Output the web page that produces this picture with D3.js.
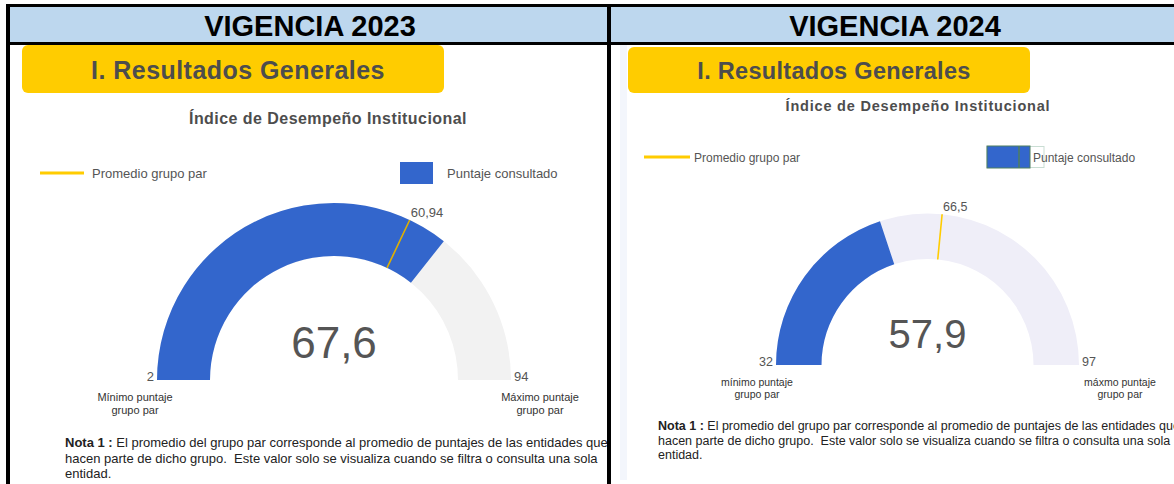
<!DOCTYPE html>
<html>
<head>
<meta charset="utf-8">
<script src="https://cdn.jsdelivr.net/npm/d3@7"></script>
<style>
  body { margin: 0; background: #fff; }
  text { font-family: Arial, "Liberation Sans", sans-serif; white-space: pre; }
</style>
</head>
<body>
<script>
// Datos de los dos tableros
const vigencias = ["VIGENCIA 2023", "VIGENCIA 2024"];
const puntajes = [67.6, 57.9];
const promedios = [60.94, 66.5];
const minimos = [2, 32];
const maximos = [94, 97];
const minimoLabels = [["Mínimo puntaje", "grupo par"], ["mínimo puntaje", "grupo par"]];
const maximoLabels = [["Máximo puntaje", "grupo par"], ["máxmo puntaje", "grupo par"]];
const restoColors = ["#f2f2f2", "#efeef8"];
const notaLines = [
  "El promedio del grupo par corresponde al promedio de puntajes de las entidades que",
  "hacen parte de dicho grupo.  Este valor solo se visualiza cuando se filtra o consulta una sola",
  "entidad."
];

const W = 1174, H = 484;
const blue = "#3366cc", yellow = "#ffcc00", grey = "#555";

// formato con coma decimal
const fmt = d3.formatLocale({decimal: ",", thousands: ".", grouping: [3], currency: ["$", ""]}).format("");

// Layout de cada panel (posiciones en pixeles)
const panels = [
  {x0: 10, x1: 607, hx: 310, box: [22, 45, 422, 48], boxText: [238, 79, 25, 0.45],
   title: [328, 124, 16, 0.45], leg: {ly: 173, lx: [40, 84], tx: 92, bx: 400, bw: 33, tx2: 447, fs: 13},
   g: {cx: 334, cy: 380, r: 177, ir: 124, fs: 44, dy: -22, lfs: 13},
   minL: [135, 401], maxL: [540, 401], descFs: 11, descDy: 13,
   nota: [65, 447, 15.5, 13]},
  {x0: 611, x1: 1174, hx: 895, box: [628, 47, 402, 46], boxText: [834, 79, 23.5, 0.3],
   title: [918, 111, 14.5, 0.8], leg: {ly: 157, lx: [644, 690], tx: 694, bx: 987, bw: 43, tx2: 1033, fs: 12},
   g: {cx: 927.5, cy: 365, r: 151.5, ir: 106, fs: 40, dy: -17, lfs: 12.5},
   minL: [757, 386], maxL: [1120, 386], descFs: 10.5, descDy: 12,
   nota: [658, 430, 14.5, 12.5]}
];

const svg = d3.select("body").append("svg")
  .attr("width", W).attr("height", H);

const defs = svg.append("defs");

// Cabeceras
svg.append("rect").attr("x", 7).attr("y", 6).attr("width", W - 7).attr("height", 37).attr("fill", "#bdd7ee");

panels.forEach((p, i) => {
  defs.append("clipPath").attr("id", "clip" + i)
    .append("rect").attr("x", p.x0).attr("y", 45).attr("width", p.x1 - p.x0).attr("height", H - 45);

  svg.append("text")
    .attr("x", p.hx).attr("y", 36)
    .attr("text-anchor", "middle")
    .attr("font-size", 29).attr("font-weight", "bold")
    .attr("fill", "#000")
    .text(vigencias[i]);

  const g = svg.append("g").attr("clip-path", `url(#clip${i})`);

  if (i === 1) {
    // borde tenue de la captura
    g.append("rect").attr("x", 620).attr("y", 45).attr("width", 7).attr("height", 435).attr("fill", "#f3f6fc");
  }

  // Caja amarilla "I. Resultados Generales"
  g.append("rect")
    .attr("x", p.box[0]).attr("y", p.box[1]).attr("width", p.box[2]).attr("height", p.box[3])
    .attr("rx", 6).attr("fill", yellow);
  g.append("text")
    .attr("x", p.boxText[0]).attr("y", p.boxText[1])
    .attr("text-anchor", "middle")
    .attr("font-family", "'Open Sans', sans-serif")
    .attr("font-size", p.boxText[2]).attr("font-weight", 600)
    .attr("letter-spacing", p.boxText[3])
    .attr("fill", "#4d4d4d")
    .text("I. Resultados Generales");

  g.append("text")
    .attr("x", p.title[0]).attr("y", p.title[1])
    .attr("text-anchor", "middle")
    .attr("font-size", p.title[2]).attr("font-weight", "bold")
    .attr("letter-spacing", p.title[3])
    .attr("fill", "#4d4d4d")
    .text("Índice de Desempeño Institucional");

  // Leyenda
  const L = p.leg;
  g.append("line")
    .attr("x1", L.lx[0]).attr("x2", L.lx[1]).attr("y1", L.ly).attr("y2", L.ly)
    .attr("stroke", yellow).attr("stroke-width", 3);
  g.append("text").attr("x", L.tx).attr("y", L.ly + 4.5)
    .attr("font-size", L.fs).attr("fill", grey).text("Promedio grupo par");
  if (i === 1) {
    g.append("rect").attr("x", L.bx).attr("y", L.ly - 10.5).attr("width", 57).attr("height", 21)
      .attr("fill", "none").attr("stroke", "#c9ddd3").attr("stroke-width", 1);
  }
  g.append("rect").attr("x", L.bx).attr("y", L.ly - 11).attr("width", L.bw).attr("height", 22)
    .attr("fill", blue).attr("stroke", i === 1 ? "#4f7f5f" : "none").attr("stroke-width", 1);
  if (i === 1) {
    g.append("line").attr("x1", L.bx + 32).attr("x2", L.bx + 32).attr("y1", L.ly - 11).attr("y2", L.ly + 11)
      .attr("stroke", "#4f7f5f").attr("stroke-width", 1.5);
  }
  g.append("text").attr("x", L.tx2).attr("y", L.ly + 4.5)
    .attr("font-size", L.fs).attr("fill", grey).text("Puntaje consultado");

  // Medidor
  const G = p.g;
  const angle = d3.scaleLinear().domain([minimos[i], maximos[i]]).range([-Math.PI / 2, Math.PI / 2]);
  const arc = d3.arc().innerRadius(G.ir).outerRadius(G.r);
  const gg = g.append("g").attr("transform", `translate(${G.cx},${G.cy})`);

  gg.append("path")
    .attr("d", arc({startAngle: angle(minimos[i]), endAngle: angle(maximos[i])}))
    .attr("fill", restoColors[i]);
  gg.append("path")
    .attr("d", arc({startAngle: angle(minimos[i]), endAngle: angle(puntajes[i])}))
    .attr("fill", blue);

  const a = angle(promedios[i]);
  const px = r => r * Math.sin(a), py = r => -r * Math.cos(a);
  gg.append("line")
    .attr("x1", px(G.ir)).attr("y1", py(G.ir)).attr("x2", px(G.r)).attr("y2", py(G.r))
    .attr("stroke", i === 0 ? "#e0b000" : "#ffcc00").attr("stroke-width", 1.6);
  gg.append("text")
    .attr("x", px(G.r) + 1).attr("y", py(G.r) - 3)
    .attr("font-size", G.lfs).attr("fill", grey)
    .text(fmt(promedios[i]));

  gg.append("text")
    .attr("x", 0).attr("y", G.dy)
    .attr("text-anchor", "middle")
    .attr("font-size", G.fs).attr("fill", grey)
    .text(fmt(puntajes[i]));

  gg.append("text").attr("x", -G.r - 3).attr("y", 1)
    .attr("text-anchor", "end").attr("font-size", G.lfs).attr("fill", grey)
    .text(fmt(minimos[i]));
  gg.append("text").attr("x", G.r + 3).attr("y", 1)
    .attr("text-anchor", "start").attr("font-size", G.lfs).attr("fill", grey)
    .text(fmt(maximos[i]));

  [[p.minL, minimoLabels[i]], [p.maxL, maximoLabels[i]]].forEach(([pos, lines]) => {
    lines.forEach((t, k) => {
      g.append("text")
        .attr("x", pos[0]).attr("y", pos[1] + k * p.descDy)
        .attr("text-anchor", "middle")
        .attr("font-size", p.descFs).attr("fill", "#333")
        .text(t);
    });
  });

  // Nota (recortada por el borde del panel, como en la captura)
  notaLines.forEach((t, k) => {
    const tx = g.append("text")
      .attr("x", p.nota[0]).attr("y", p.nota[1] + k * p.nota[2])
      .attr("font-size", p.nota[3]).attr("fill", "#222");
    if (k === 0) {
      tx.append("tspan").attr("font-weight", "bold").text("Nota 1 :");
      tx.append("tspan").text(" " + t);
    } else {
      tx.text(t);
    }
  });
});

// Bordes negros
const black = "#000";
svg.append("rect").attr("x", 7).attr("y", 4).attr("width", W - 7).attr("height", 3).attr("fill", black);
svg.append("rect").attr("x", 7).attr("y", 42).attr("width", W - 7).attr("height", 3).attr("fill", black);
svg.append("rect").attr("x", 6).attr("y", 4).attr("width", 4).attr("height", H - 4).attr("fill", black);
svg.append("rect").attr("x", 607).attr("y", 4).attr("width", 4).attr("height", H - 4).attr("fill", black);
</script>
</body>
</html>
